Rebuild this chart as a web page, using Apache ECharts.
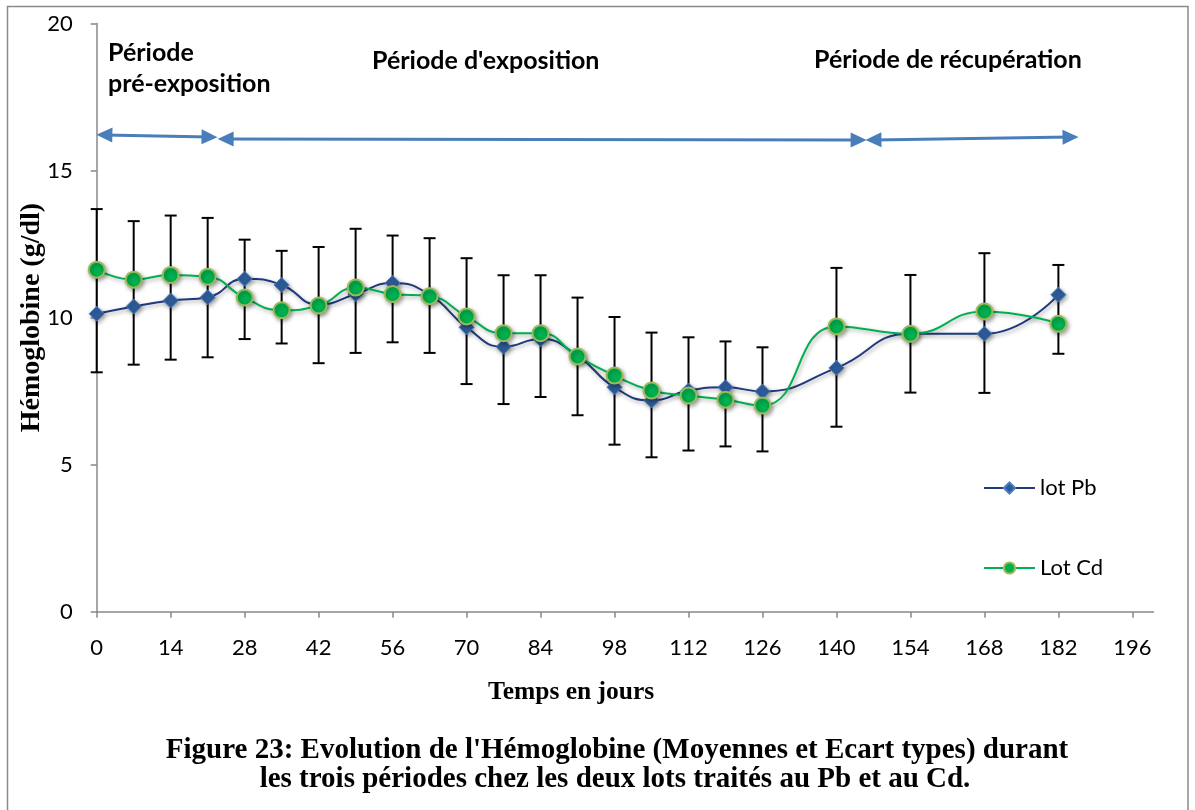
<!DOCTYPE html>
<html><head><meta charset="utf-8">
<script src="https://cdn.jsdelivr.net/npm/echarts@6/dist/echarts.min.js"></script>
<style>html,body{margin:0;padding:0;background:#fff}#c{width:1195px;height:810px}</style>
</head><body><div id="c"></div>
<script>
// ---- data ----
const days   = [0,7,14,21,28,35,42,49,56,63,70,77,84,91,98,105,112,119,126,140,154,168,182];
const pbMean = [10.13,10.38,10.58,10.69,11.32,11.11,10.44,10.80,11.18,10.78,9.67,9.01,9.27,8.70,7.63,7.18,7.52,7.63,7.49,8.29,9.45,9.45,10.78];
const cdMean = [11.63,11.29,11.45,11.39,10.68,10.25,10.41,11.02,10.80,10.73,10.04,9.47,9.47,8.68,8.03,7.52,7.35,7.21,7.01,9.70,9.45,10.21,9.79];
const pbSd   = [1.99,1.98,2.01,2.04,1.33,1.16,1.96,2.00,1.61,1.92,1.93,1.95,1.97,1.98,1.95,1.93,1.81,1.56,1.50,2.00,2.00,2.01,1.01];
const cdSd   = [2.06,1.99,2.02,2.00,1.41,1.13,1.96,2.00,1.64,1.93,1.98,1.97,1.97,2.00,1.99,1.97,1.87,1.59,1.56,1.99,2.00,1.98,1.02];
const xTicks = [0,14,28,42,56,70,84,98,112,126,140,154,168,182,196];
const seriesNames = ['lot Pb','Lot Cd'];
const periodLabels = ['Période', 'pré-exposition', "Période d'exposition", 'Période de récupération'];
// arrow segments in data coordinates (days, g/dl) — symbol centres
const periodArrows = [
  [[1.45,16.21],[21.35,16.14]],
  [[24.4,16.07],[144.2,16.04]],
  [[147.0,16.04],[184.3,16.14]]
];
const yTitle = 'Hémoglobine (g/dl)';
const xTitle = 'Temps en jours';
const caption = ["Figure 23: Evolution de l'Hémoglobine (Moyennes et Ecart types) durant",
                 "les trois périodes chez les deux lots traités au Pb et au Cd."];

// ---- chart ----
const chart = echarts.init(document.getElementById('c'), null, {renderer:'canvas'});
const SANS = 'Lato, "Open Sans", sans-serif';
const SERIF = '"Liberation Serif", "DejaVu Serif", serif';

// one visible bar per day covering both series' mean ± SD
function errRender(params, api){
  const x = api.value(0);
  const top = Math.max(api.value(1) + api.value(2), api.value(3) + api.value(4));
  const bot = Math.min(api.value(1) - api.value(2), api.value(3) - api.value(4));
  const hi = api.coord([x, top]), lo = api.coord([x, bot]);
  const w = 6;
  const st = {stroke:'#000', lineWidth:2};
  return {type:'group', children:[
    {type:'line', shape:{x1:hi[0],y1:hi[1],x2:lo[0],y2:lo[1]}, style:st},
    {type:'line', shape:{x1:hi[0]-w,y1:hi[1],x2:hi[0]+w,y2:hi[1]}, style:st},
    {type:'line', shape:{x1:lo[0]-w,y1:lo[1],x2:lo[0]+w,y2:lo[1]}, style:st}
  ]};
}

const shadow = {shadowBlur:4, shadowOffsetX:1.5, shadowOffsetY:2, shadowColor:'rgba(0,0,0,0.35)'};

const option = {
  animation:false,
  backgroundColor:'#fff',
  grid:{left:96.7, right:41.5, top:23.5, bottom:198.3, containLabel:false},
  xAxis:{
    type:'value', min:0, max:200,
    name:xTitle, nameLocation:'middle', nameGap:68, nameMoveOverlap:false,
    nameTextStyle:{fontFamily:SERIF, fontWeight:'bold', fontSize:25.5, color:'#000', padding:[0,108,0,0]},
    axisLine:{show:true, lineStyle:{color:'#888', width:1.5}},
    axisTick:{show:true, length:6, lineStyle:{color:'#888', width:1.5}, customValues:xTicks},
    axisLabel:{color:'#000', fontFamily:SANS, fontSize:22, margin:25, customValues:xTicks},
    splitLine:{show:false}
  },
  yAxis:{
    type:'value', min:0, max:20, interval:5,
    name:yTitle, nameLocation:'middle', nameGap:51, nameRotate:90, nameMoveOverlap:false,
    nameTextStyle:{fontFamily:SERIF, fontWeight:'bold', fontSize:28, color:'#000'},
    axisLine:{show:true, lineStyle:{color:'#888', width:1.5}},
    axisTick:{show:true, length:6, lineStyle:{color:'#888', width:1.5}},
    axisLabel:{color:'#000', fontFamily:SANS, fontSize:22, margin:24},
    splitLine:{show:false}
  },
  legend:{
    data:seriesNames, orient:'vertical', left:983, top:475, itemGap:54, padding:0,
    itemWidth:51, itemHeight:14,
    textStyle:{fontFamily:SANS, fontSize:22, color:'#000', lineHeight:26}
  },
  series:[
    {type:'custom', name:'errorBars', renderItem:errRender, z:2, silent:true,
     encode:{x:0, y:[1,3]}, data:days.map((d,i)=>[d, pbMean[i], pbSd[i], cdMean[i], cdSd[i]])},
    {type:'line', name:seriesNames[0], z:3, smooth:0.5,
     data:days.map((d,i)=>[d, pbMean[i]]),
     symbol:'diamond', symbolSize:15,
     lineStyle:Object.assign({color:'#1f3a7a', width:2}, shadow),
     itemStyle:Object.assign({color:'#2e5b98', borderColor:'#4a7ebb', borderWidth:1}, shadow),
     markLine:{
       silent:true, symbol:['triangle','triangle'], symbolSize:[15,16],
       label:{show:false},
       lineStyle:{color:'#4a7ebb', width:3, type:'solid'},
       emphasis:{disabled:true},
       data:periodArrows.map(a=>[{coord:a[0]},{coord:a[1]}])
     }},
    {type:'line', name:seriesNames[1], z:4, smooth:0.5,
     data:days.map((d,i)=>[d, cdMean[i]]),
     symbol:'circle', symbolSize:16,
     lineStyle:Object.assign({color:'#00b050', width:2}, shadow),
     itemStyle:Object.assign({color:'#00b050', borderColor:'#9bbb59', borderWidth:2}, shadow)}
  ],
  graphic:[
    {type:'rect', shape:{x:7.5, y:6.5, width:1180.5, height:820}, style:{fill:null, stroke:'#8a8a8a', lineWidth:1.5}, silent:true},
    {type:'text', x:108, y:53, style:{text:periodLabels[0], font:'bold 25px '+SANS, fill:'#000', textVerticalAlign:'middle'}},
    {type:'text', x:108, y:84, style:{text:periodLabels[1], font:'bold 25px '+SANS, fill:'#000', textVerticalAlign:'middle'}},
    {type:'text', x:372, y:61, style:{text:periodLabels[2], font:'bold 25px '+SANS, fill:'#000', textVerticalAlign:'middle'}},
    {type:'text', x:814, y:60, style:{text:periodLabels[3], font:'bold 25px '+SANS, fill:'#000', textVerticalAlign:'middle'}},
    {type:'text', x:617, y:751, style:{text:caption[0], font:'bold 29px '+SERIF, fill:'#000', textAlign:'center', textVerticalAlign:'middle'}},
    {type:'text', x:615, y:780, style:{text:caption[1], font:'bold 29px '+SERIF, fill:'#000', textAlign:'center', textVerticalAlign:'middle'}}
  ]
};
chart.setOption(option);
</script>
</body></html>
